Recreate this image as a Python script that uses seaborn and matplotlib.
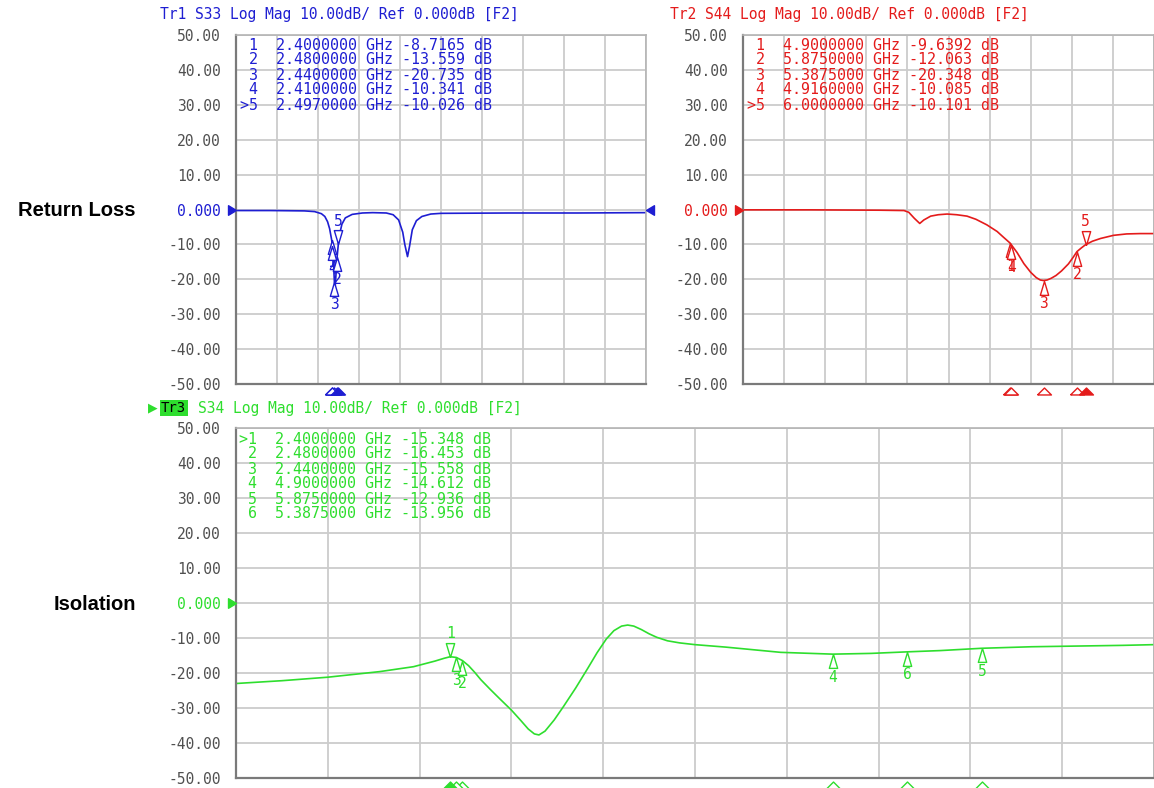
import matplotlib.pyplot as plt
import matplotlib.transforms as mtransforms
import numpy as np
import seaborn as sns
from matplotlib.path import Path

W, H = 1154, 788

# Tr1 S33 trace (GHz, dB)
s33_freq = [1.0, 1.5, 2.0, 2.15, 2.25, 2.3, 2.34, 2.37, 2.4, 2.41, 2.425, 2.44, 2.45, 2.46,
            2.48, 2.497, 2.52, 2.55, 2.6, 2.7, 2.85, 3.0, 3.2, 3.3, 3.38, 3.44, 3.47, 3.51,
            3.54, 3.58, 3.64, 3.72, 3.85, 4.0, 5.0, 6.0, 7.0]
s33_db = [-0.3, -0.3, -0.4, -0.6, -1.2, -2.0, -3.5, -5.5, -8.7165, -10.341, -14.8, -20.735,
          -22.5, -19.5, -13.559, -10.026, -6.8, -4.2, -2.4, -1.4, -1.0, -0.9, -1.0, -1.5,
          -3.0, -6.5, -10.0, -13.5, -10.5, -5.8, -3.2, -2.0, -1.3, -1.1, -1.0, -1.0, -0.9]
s33_mk_freq = [2.4, 2.48, 2.44, 2.41, 2.497]
s33_mk_db = [-8.7165, -13.559, -20.735, -10.341, -10.026]
s33_active = 5

# Tr2 S44 trace
s44_freq = [1.0, 2.0, 3.0, 3.35, 3.42, 3.5, 3.58, 3.64, 3.74, 3.85, 3.98, 4.12, 4.27, 4.4,
            4.56, 4.71, 4.8, 4.9, 4.916, 5.0, 5.1, 5.2, 5.28, 5.34, 5.3875, 5.44, 5.5, 5.57,
            5.65, 5.75, 5.82, 5.875, 5.94, 6.0, 6.1, 6.22, 6.41, 6.6, 6.8, 7.0]
s44_db = [-0.1, -0.1, -0.2, -0.3, -0.8, -2.5, -4.0, -3.0, -1.9, -1.5, -1.3, -1.5, -1.9, -2.8,
          -4.4, -6.3, -7.9, -9.6392, -10.085, -12.3, -15.5, -18.0, -19.5, -20.2, -20.348,
          -20.2, -19.7, -18.9, -17.6, -15.6, -13.7, -12.063, -11.0, -10.101, -9.1, -8.3,
          -7.4, -7.0, -6.9, -6.9]
s44_mk_freq = [4.9, 5.875, 5.3875, 4.916, 6.0]
s44_mk_db = [-9.6392, -12.063, -20.348, -10.085, -10.101]
s44_active = 5

# Tr3 S34 trace
s34_freq = [1.0, 1.3, 1.6, 1.94, 2.16, 2.3, 2.36, 2.4, 2.44, 2.48, 2.52, 2.56, 2.6, 2.66,
            2.72, 2.8, 2.86, 2.91, 2.95, 2.98, 3.02, 3.08, 3.14, 3.22, 3.3, 3.36, 3.42, 3.47,
            3.52, 3.56, 3.6, 3.65, 3.7, 3.75, 3.82, 3.9, 4.0, 4.2, 4.56, 4.9, 5.15, 5.3875,
            5.6, 5.875, 6.2, 6.5, 6.8, 7.0]
s34_db = [-23.0, -22.2, -21.2, -19.6, -18.2, -16.6, -15.8, -15.348, -15.558, -16.453, -17.9,
          -19.8, -21.9, -24.6, -27.2, -30.6, -33.5, -36.0, -37.4, -37.7, -36.6, -33.4,
          -29.6, -24.3, -18.6, -14.2, -10.3, -7.9, -6.6, -6.3, -6.6, -7.6, -8.8, -9.8,
          -10.8, -11.4, -11.9, -12.6, -14.1, -14.612, -14.4, -13.956, -13.6, -12.936, -12.5,
          -12.3, -12.1, -11.9]
s34_mk_freq = [2.4, 2.48, 2.44, 4.9, 5.875, 5.3875]
s34_mk_db = [-15.348, -16.453, -15.558, -14.612, -12.936, -13.956]
s34_active = 1

headers = ["Tr1 S33 Log Mag 10.00dB/ Ref 0.000dB [F2]",
           "Tr2 S44 Log Mag 10.00dB/ Ref 0.000dB [F2]",
           "S34 Log Mag 10.00dB/ Ref 0.000dB [F2]"]
side_labels = ["Return Loss", "Isolation"]
y_ticks = list(range(-50, 51, 10))

BLUE = '#1e1ed2'
RED = '#e41b1b'
GREEN = '#2ede2e'
MONO = 'DejaVu Sans Mono'

sns.set_style("white")

up_tri = Path([(0, 0), (-0.3, -1), (0.3, -1), (0, 0)])
down_tri = Path([(0, 0), (-0.3, 1), (0.3, 1), (0, 0)])
flat_tri = Path([(-1, -0.5), (1, -0.5), (0, 0.5), (-1, -0.5)])
right_tri = Path([(0, 0), (-1, 0.6), (-1, -0.6), (0, 0)])
left_tri = Path([(0, 0), (1, 0.6), (1, -0.6), (0, 0)])


def fx(x):
    return x / W


def fy(y):
    return 1 - y / H


def tick_label(v):
    return "0.000" if v == 0 else f"{v:.2f}"


def panel(ax, freq, db, mk_freq, mk_db, active, color, table_x, table_y):
    sns.lineplot(x=freq, y=db, ax=ax, color=color, lw=1.2, estimator=None,
                 sort=False, legend=False)
    ax.set_xlim(1, 7)
    ax.set_ylim(-50, 50)
    ax.set_xticks(1 + 0.6 * np.arange(11))
    ax.set_yticks(y_ticks)
    ax.set_yticklabels([tick_label(v) for v in y_ticks], family=MONO, fontsize=10.5,
                       color='#505050')
    ax.get_yticklabels()[y_ticks.index(0)].set_color(color)
    ax.tick_params(axis='x', labelbottom=False, length=0)
    ax.tick_params(axis='y', length=0, pad=11)
    ax.set_xlabel('')
    ax.set_ylabel('')
    ax.grid(True, color='#cccccc', lw=1.3)
    for side in ['top', 'right']:
        ax.spines[side].set_color('#b4b4b4')
        ax.spines[side].set_linewidth(1.2)
    for side in ['left', 'bottom']:
        ax.spines[side].set_color('#7a7a7a')
        ax.spines[side].set_linewidth(1.6)

    # reference level arrow
    ytr = mtransforms.blended_transform_factory(ax.transAxes, ax.transData)
    ax.plot([0], [0], marker=right_tri, ms=11.5, color=color, ls='none',
            transform=ytr, clip_on=False, zorder=5)

    # trace markers
    for i, (f, v) in enumerate(zip(mk_freq, mk_db), start=1):
        if i == active:
            ax.plot([f], [v], marker=down_tri, ms=20, mfc='white', mec=color, mew=1,
                    ls='none', zorder=4)
            off = 16.5
        else:
            ax.plot([f], [v], marker=up_tri, ms=20, mfc='white', mec=color, mew=1,
                    ls='none', zorder=4)
            off = -16.5
        ax.annotate(str(i), (f, v), xytext=(0, off), textcoords='offset points',
                    ha='center', va='center', color=color, fontsize=10.5, family=MONO)

    # stimulus markers below the grid
    xtr = mtransforms.blended_transform_factory(ax.transData, ax.transAxes)
    for i, f in enumerate(mk_freq, start=1):
        ax.plot([f], [-0.019], marker=flat_tri, ms=10, ls='none', mec=color, mew=1,
                mfc=color if i == active else 'white', transform=xtr, clip_on=False,
                zorder=5 if i == active else 4)

    # marker table
    for i, (f, v) in enumerate(zip(mk_freq, mk_db), start=1):
        tag = ('>' if i == active else '') + str(i)
        row = f"{tag:>2}  {f:.7f} GHz {v:.5g} dB"
        fig.text(fx(table_x), fy(table_y + 15 * (i - 1)), row, family=MONO, fontsize=10.8,
                 color=color, ha='left', va='center')


fig = plt.figure(figsize=(W / 100, H / 100), dpi=100)
ax1 = fig.add_axes([fx(236), fy(384), 410 / W, 349 / H])
ax2 = fig.add_axes([fx(743), fy(384), 411 / W, 349 / H])
ax3 = fig.add_axes([fx(236), fy(778), 918 / W, 350 / H])

panel(ax1, s33_freq, s33_db, s33_mk_freq, s33_mk_db, s33_active, BLUE, 240, 45)
panel(ax2, s44_freq, s44_db, s44_mk_freq, s44_mk_db, s44_active, RED, 747, 45)
panel(ax3, s34_freq, s34_db, s34_mk_freq, s34_mk_db, s34_active, GREEN, 239, 439)

# left-pointing reference arrow on the right edge of Tr1
ytr1 = mtransforms.blended_transform_factory(ax1.transAxes, ax1.transData)
ax1.plot([1], [0], marker=left_tri, ms=11.5, color=BLUE, ls='none', transform=ytr1,
         clip_on=False, zorder=5)

# trace headers
fig.text(fx(160), fy(14), headers[0], family=MONO, fontsize=10.5, color=BLUE, va='center')
fig.text(fx(670), fy(14), headers[1], family=MONO, fontsize=10.5, color=RED, va='center')
fig.text(fx(148), fy(408), "\u25B6", family='DejaVu Sans', fontsize=9, color=GREEN,
         va='center')
fig.text(fx(161), fy(408), "Tr3", family=MONO, fontsize=10, color='black', va='center',
         bbox=dict(boxstyle='square,pad=0.1', fc=GREEN, ec='none'))
fig.text(fx(198), fy(408), headers[2], family=MONO, fontsize=10.5, color=GREEN, va='center')

# side labels
fig.text(fx(136), fy(210), side_labels[0], family='Liberation Sans', fontweight='bold',
         fontsize=14.5, ha='right', va='center', color='black')
fig.text(fx(136), fy(604), side_labels[1], family='Liberation Sans', fontweight='bold',
         fontsize=14.5, ha='right', va='center', color='black')

fig.savefig('out.png', dpi=100)
